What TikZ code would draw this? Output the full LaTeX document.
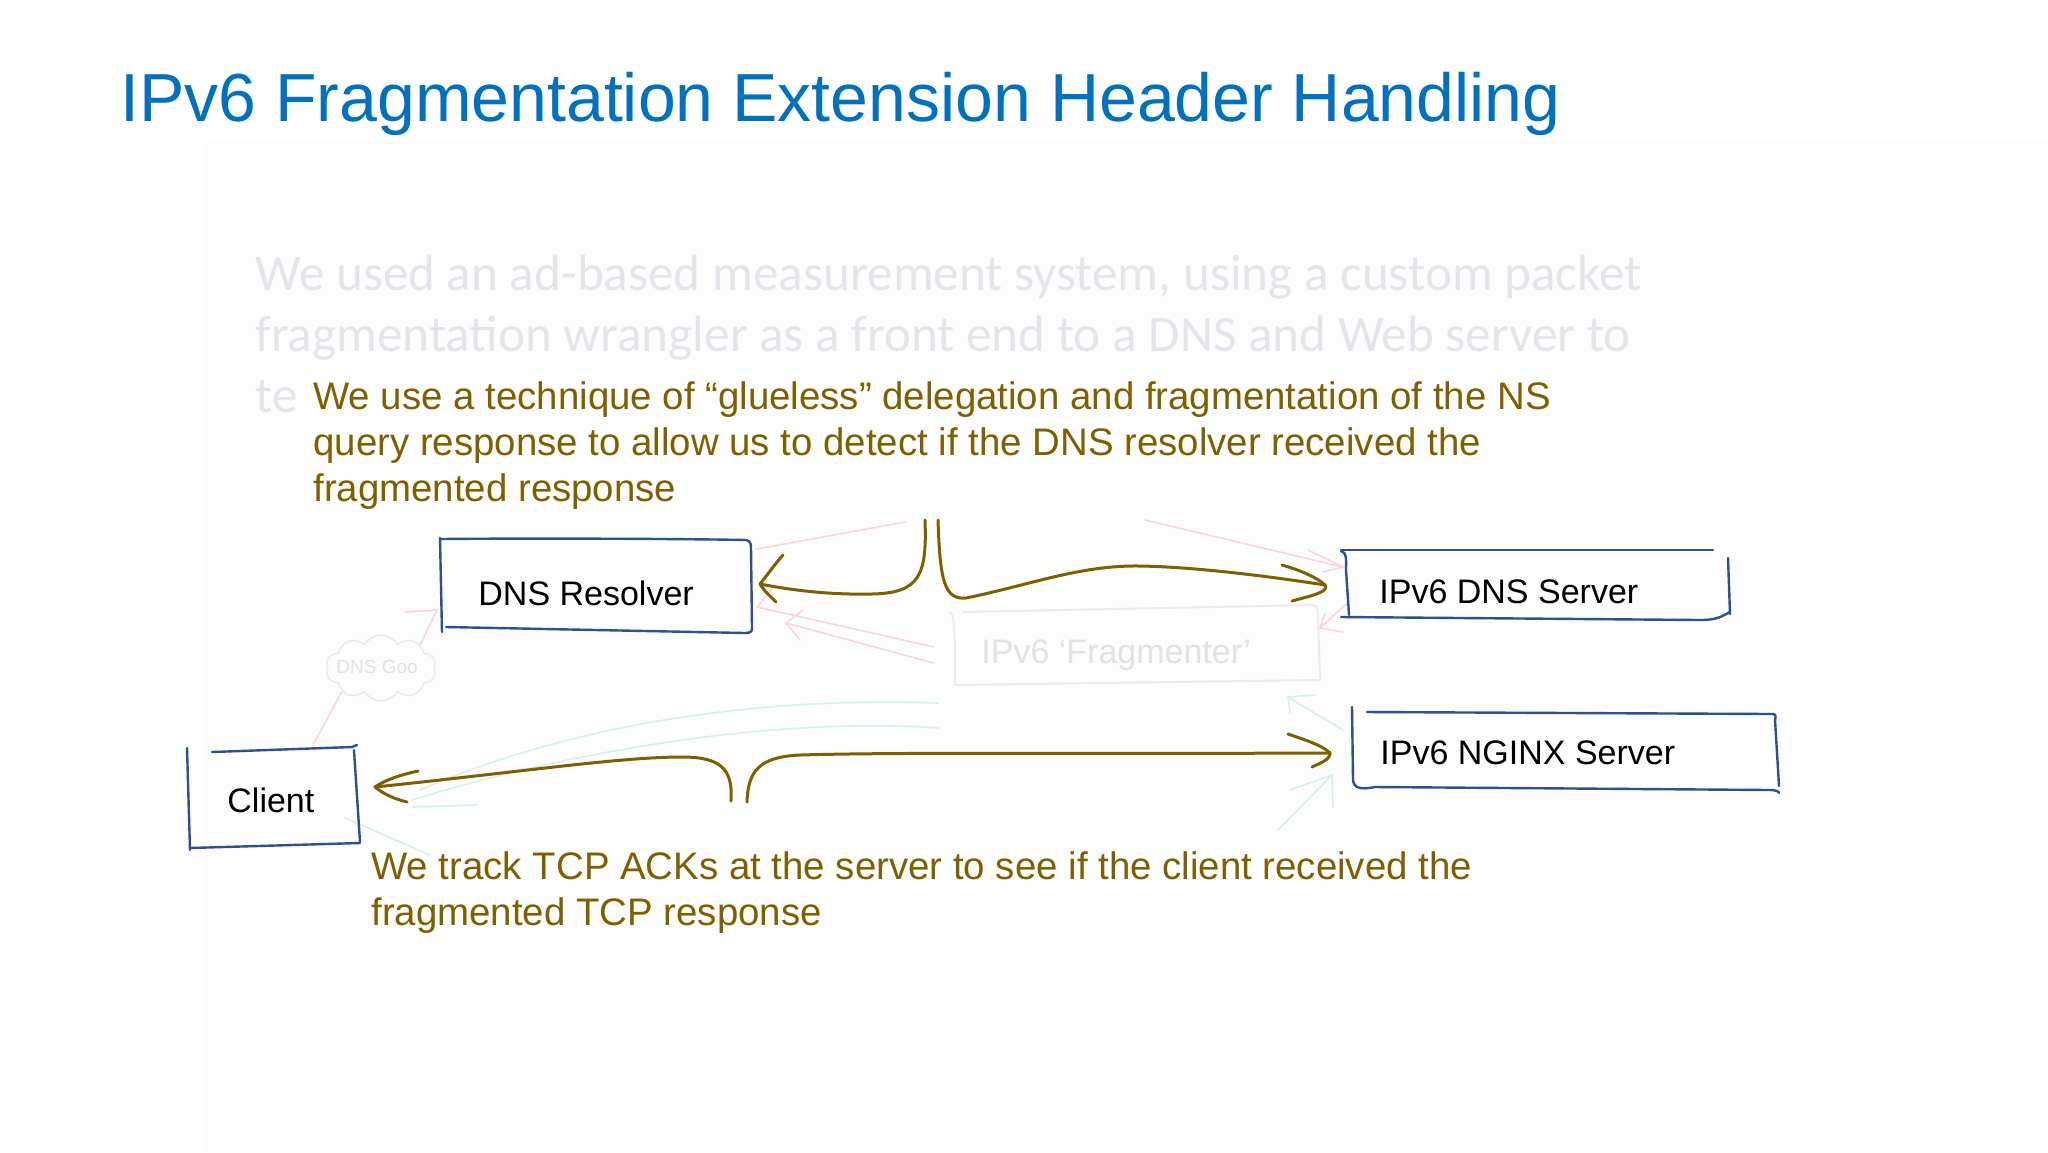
\documentclass[tikz,border=0pt]{standalone}
\usepackage{fontspec}
\setmainfont{Liberation Sans}
\newfontfamily\calibfont{Carlito}
\usetikzlibrary{shapes.symbols,calc}
\definecolor{titleblue}{HTML}{0070C0}
\definecolor{olivetext}{HTML}{7F6000}
\definecolor{boxblue}{HTML}{2F4F8F}
\definecolor{fainttext}{HTML}{E6E4EA}
\definecolor{faintlabel}{HTML}{E2E2E6}
\definecolor{faintbox}{HTML}{EBEBEF}
\definecolor{faintpink}{HTML}{F9D6DC}
\definecolor{faintcyan}{HTML}{D6EFEF}
\definecolor{panelgrey}{HTML}{FDFDFD}
\begin{document}
\begin{tikzpicture}[x={(0.5pt,0)},y={(0,-0.5pt)},
  lbl/.style={inner sep=0pt,anchor=base west,font=\fontsize{17}{20}\selectfont},
  para/.style={inner sep=0pt,anchor=base west,text=olivetext,font=\fontsize{19.2}{23}\selectfont},
  sketch/.style={draw=boxblue,line width=1.2pt,line cap=round,line join=round},
  olivearrow/.style={draw=olivetext,line width=1.5pt,line cap=round,line join=round},
  faintpk/.style={draw=faintpink,line width=0.8pt,line cap=round},
  faintcy/.style={draw=faintcyan,line width=0.8pt,line cap=round},
]
\fill[white] (0,0) rectangle (2048,1152);
\useasboundingbox (0,0) rectangle (2048,1152);
\fill[panelgrey] (203,140) rectangle (2048,1152);

% title
\node[inner sep=0pt,anchor=base west,text=titleblue,font=\fontsize{34}{40}\selectfont] (title) at (120,121) {IPv6 Fragmentation Extension Header Handling};

% faded background text
\node[inner sep=0pt,anchor=base west,text=fainttext,font=\calibfont\fontsize{25.6}{30.5}\selectfont] (bgtext) at (255,290)
  {\begin{tabular}[t]{@{}l@{}}We used an ad-based measurement system, using a custom packet\\
   fragmentation wrangler as a front end to a DNS and Web server to\\ te\end{tabular}};

% olive paragraphs
\node[para] (para1) at (313,409) {\begin{tabular}[t]{@{}l@{}}We use a technique of “glueless” delegation and fragmentation of the NS\\
  query response to allow us to detect if the DNS resolver received the\\ fragmented response\end{tabular}};
\node[para] (para2) at (371,879) {\begin{tabular}[t]{@{}l@{}}We track TCP ACKs at the server to see if the client received the\\
  fragmented TCP response\end{tabular}};

% faint decorations
\node[cloud,cloud puffs=10,cloud puff arc=120,draw=faintbox,line width=0.8pt,minimum width=55pt,minimum height=33pt,inner sep=0pt] (goo) at (381,668) {};
\node[inner sep=0pt,anchor=base west,text=faintlabel,font=\fontsize{9.5}{11}\selectfont] (gootext) at (336,673) {DNS Goo};
\draw[faintbox,line width=1pt,line cap=round] (950,612) .. controls (955,615) and (955,640) .. (955,685) -- (1318,680);
\draw[faintbox,line width=1pt,line cap=round] (963,612) -- (1312,605) .. controls (1318,606) and (1318,610) .. (1318,615) -- (1320,680);
\node[inner sep=0pt,anchor=base west,text=faintlabel,font=\fontsize{17}{20}\selectfont] (frag) at (981,663) {IPv6 ‘Fragmenter’};

\draw[faintpk] (757,549) -- (905,522);
\draw[faintpk] (1145,520) -- (1343,567);
\draw[faintpk] (1308,550) -- (1343,567) -- (1323,572);
\draw[faintpk] (934,647) -- (757,607);
\draw[faintpk] (757,607) -- (775,585);
\draw[faintpk] (934,663) -- (786,623);
\draw[faintpk] (786,623) -- (803,610);
\draw[faintpk] (786,623) -- (800,640);
\draw[faintpk] (1347,603) -- (1320,628);
\draw[faintpk] (1320,628) -- (1343,632);
\draw[faintpk] (1320,628) -- (1325,613);
\draw[faintpk] (goo.north east) -- (437,610);
\draw[faintpk] (437,610) -- (405,612);
\draw[faintpk] (goo.south west) -- (313,745);

\draw[faintcy] (938,703) .. controls (800,698) and (600,712) .. (420,790);
\draw[faintcy] (938,728) .. controls (800,718) and (600,742) .. (412,800);
\draw[faintcy] (413,807) -- (477,805);
\draw[faintcy] (345,818) -- (430,855);
\draw[faintcy] (1343,730) -- (1288,697);
\draw[faintcy] (1288,697) -- (1315,695);
\draw[faintcy] (1288,697) -- (1290,713);
\draw[faintcy] (1278,830) -- (1332,775);
\draw[faintcy] (1290,790) -- (1332,775) -- (1333,807);

% boxes (hand drawn)
\draw[sketch] (440,538) -- (442,632);
\draw[sketch] (440,539) .. controls (550,538) and (700,539) .. (746,540) .. controls (750,541) and (751,543) .. (751,548) -- (752,628) .. controls (752,632) and (750,633) .. (745,633) -- (446,627);
\node[lbl] (resolver) at (478,605) {DNS Resolver};

\draw[sketch] (1341,550) -- (1713,550);
\draw[sketch] (1341,551) .. controls (1347,553) and (1346,558) .. (1346,570) -- (1349,615);
\draw[sketch] (1341,617) -- (1700,620) .. controls (1718,620) and (1722,616) .. (1730,612);
\draw[sketch] (1728,558) -- (1730,614);
\node[lbl] (dnsserver) at (1379,603) {IPv6 DNS Server};

\draw[sketch] (1352,707) -- (1353,780) .. controls (1354,788) and (1360,790) .. (1375,787) -- (1770,790) .. controls (1777,790) and (1779,792) .. (1779,793);
\draw[sketch] (1367,712) -- (1772,714) .. controls (1776,714) and (1776,716) .. (1775,720) -- (1779,786);
\node[lbl] (nginx) at (1380,764) {IPv6 NGINX Server};

\draw[sketch] (212,752) -- (352,747) -- (357,745);
\draw[sketch] (187,748) -- (190,850);
\draw[sketch] (190,848) -- (360,843);
\draw[sketch] (354,750) -- (360,842);
\node[lbl] (client) at (227,812) {Client};

% olive brace arrows
\coordinate (jL) at (925,520);
\coordinate (jR) at (938,520);
\coordinate (tipRes) at (760,584);
\coordinate (tipDns) at (1325,585);
\coordinate (kL) at (731,801);
\coordinate (kR) at (747,802);
\coordinate (tipCli) at (375,787);
\coordinate (tipNgx) at (1330,753);

\draw[olivearrow] (jL) .. controls (927,575) and (920,593) .. (872,594) .. controls (830,595) and (790,590) .. (tipRes);
\draw[olivearrow] (tipRes) .. controls ($(tipRes)+(8,-10)$) and ($(tipRes)+(15,-20)$) .. (783,555);
\draw[olivearrow] (tipRes) .. controls ($(tipRes)+(5,8)$) and ($(tipRes)+(10,12)$) .. (776,602);

\draw[olivearrow] (jR) .. controls (940,580) and (944,600) .. (966,598) .. controls (1030,585) and (1080,565) .. (1140,566) .. controls (1200,567) and (1280,578) .. (tipDns);
\draw[olivearrow] (1282,565) .. controls (1300,570) and (1318,578) .. (tipDns) .. controls (1330,592) and (1310,596) .. (1292,601);

\draw[olivearrow] (kL) .. controls (733,770) and (722,757) .. (682,757) .. controls (620,757) and (520,772) .. (tipCli);
\draw[olivearrow] (418,771) .. controls (400,775) and (385,780) .. (tipCli) .. controls (385,795) and (395,799) .. (407,802);

\draw[olivearrow] (kR) .. controls (748,770) and (760,757) .. (800,755) .. controls (900,752) and (1100,754) .. (tipNgx);
\draw[olivearrow] (1288,734) .. controls (1305,740) and (1322,745) .. (tipNgx) .. controls (1330,760) and (1320,763) .. (1312,767);
\end{tikzpicture}
\end{document}
